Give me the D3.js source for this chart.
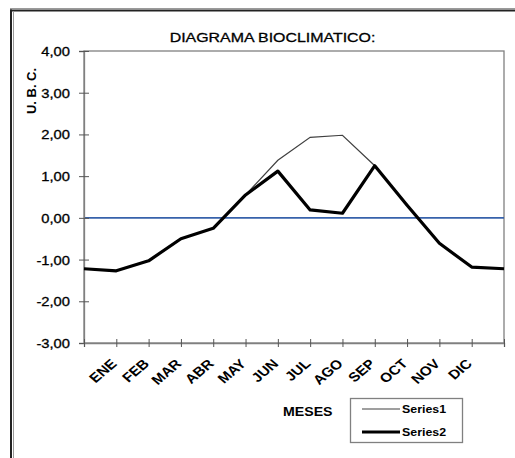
<!DOCTYPE html>
<html>
<head>
<meta charset="utf-8">
<script src="https://cdn.jsdelivr.net/npm/d3@7"></script>
<style>
  html, body { margin: 0; padding: 0; background: #fff; }
  svg text { font-family: "Liberation Sans", Arial, sans-serif; fill: #000; }
  svg text.heavy { stroke: #000; stroke-width: 0.3px; }
</style>
</head>
<body>
<div id="chart"></div>
<script>
// 数据
const months = ['', 'ENE', 'FEB', 'MAR', 'ABR', 'MAY', 'JUN', 'JUL', 'AGO', 'SEP', 'OCT', 'NOV', 'DIC', ''];
const series1 = [-1.22, -1.27, -1.03, -0.50, -0.25, 0.55, 1.38, 1.93, 1.98, 1.25, 0.30, -0.61, -1.18, -1.22];
const series2 = [-1.22, -1.27, -1.03, -0.50, -0.25, 0.55, 1.12, 0.19, 0.11, 1.25, 0.30, -0.61, -1.18, -1.22];
const yTicks = [-3, -2, -1, 0, 1, 2, 3, 4];
const seriesNames = ['Series1', 'Series2'];

const W = 515, H = 458;
const plot = { left: 84, top: 51, right: 504, bottom: 343 };
const sx = 1.18; // 原图文字横向略宽

const svg = d3.select('#chart').append('svg')
    .attr('width', W)
    .attr('height', H);

// 外框
svg.append('line').attr('x1', 10).attr('x2', W + 5).attr('y1', 8.5).attr('y2', 8.5)
    .attr('stroke', '#9a9a9a').attr('stroke-width', 1);
svg.append('line').attr('x1', 10).attr('x2', W + 5).attr('y1', 10.5).attr('y2', 10.5)
    .attr('stroke', '#222').attr('stroke-width', 2);
svg.append('line').attr('x1', 11).attr('x2', 11).attr('y1', 9.5).attr('y2', H + 5)
    .attr('stroke', '#222').attr('stroke-width', 2);
svg.append('line').attr('x1', 13.5).attr('x2', 13.5).attr('y1', 11.5).attr('y2', H + 5)
    .attr('stroke', '#9a9a9a').attr('stroke-width', 1);

const x = d3.scalePoint()
    .domain(d3.range(months.length))
    .range([plot.left, plot.right]);
const y = d3.scaleLinear()
    .domain([-3, 4])
    .range([plot.bottom, plot.top]);

const locale = d3.formatLocale({ decimal: ',', thousands: '.', grouping: [3], currency: ['', ''], minus: '-' });
const fmt = locale.format('.2f');

// 绘图区边框
svg.append('rect')
    .attr('x', plot.left).attr('y', plot.top)
    .attr('width', plot.right - plot.left).attr('height', plot.bottom - plot.top)
    .attr('fill', 'none').attr('stroke', '#808080').attr('stroke-width', 1.3);

// 零线
svg.append('line')
    .attr('x1', plot.left).attr('x2', plot.right)
    .attr('y1', y(0)).attr('y2', y(0))
    .attr('stroke', '#3762ab').attr('stroke-width', 1.6);

// Y 轴
const yAxis = svg.append('g')
    .attr('transform', `translate(${plot.left},0)`)
    .call(d3.axisLeft(y).tickValues(yTicks).tickFormat(fmt).tickSize(5).tickPadding(9));
yAxis.select('.domain').attr('stroke', '#808080').attr('stroke-width', 1.3);
yAxis.selectAll('.tick line').attr('x1', 5).attr('stroke', '#555');
yAxis.selectAll('.tick text')
    .attr('class', 'heavy')
    .attr('font-size', 12.5)
    .attr('dy', null)
    .attr('y', 4.5)
    .attr('transform', `scale(${sx},1)`)
    .attr('x', -14 / sx);

// X 轴
const xAxis = svg.append('g')
    .attr('transform', `translate(0,${plot.bottom})`)
    .call(d3.axisBottom(x).tickSize(4).tickFormat(''));
xAxis.select('.domain').attr('stroke', '#808080').attr('stroke-width', 1.3);
xAxis.selectAll('.tick line').attr('y1', -4).attr('stroke', '#555');

// 月份标签 (旋转 45°)
svg.append('g').selectAll('text')
    .data(months.map((m, i) => ({ m, i })).filter(d => d.m))
    .enter().append('text')
    .attr('transform', d => `translate(${x(d.i) + 1.5},${plot.bottom + 21.5}) scale(${sx},1) rotate(-45)`)
    .attr('text-anchor', 'end')
    .attr('font-size', 13)
    .attr('font-weight', 'bold')
    .text(d => d.m);

// 折线
const line = d3.line()
    .x((d, i) => x(i))
    .y(d => y(d));

svg.append('path')
    .datum(series1)
    .attr('d', line)
    .attr('fill', 'none')
    .attr('stroke', '#404040')
    .attr('stroke-width', 1.2);

svg.append('path')
    .datum(series2)
    .attr('d', line)
    .attr('fill', 'none')
    .attr('stroke', '#000')
    .attr('stroke-width', 3.2)
    .attr('stroke-linejoin', 'round');

// 标题
svg.append('text')
    .attr('class', 'heavy')
    .attr('transform', `translate(272.5,42) scale(${sx},1)`)
    .attr('text-anchor', 'middle')
    .attr('font-size', 13.5)
    .text('DIAGRAMA BIOCLIMATICO:');

svg.append('text')
    .attr('transform', 'translate(35.5,91) rotate(-90)')
    .attr('text-anchor', 'middle')
    .attr('font-size', 13)
    .attr('font-weight', 'bold')
    .text('U. B. C.');

svg.append('text')
    .attr('transform', `translate(283,416) scale(${sx},1)`)
    .attr('font-size', 12)
    .attr('font-weight', 'bold')
    .text('MESES');

// 图例
const legend = svg.append('g');
legend.append('rect')
    .attr('x', 350.5).attr('y', 398.5).attr('width', 112).attr('height', 44)
    .attr('fill', '#fff').attr('stroke', '#808080').attr('stroke-width', 1.3);
const legendRows = [
    { name: seriesNames[0], color: '#404040', w: 1.2, yy: 409 },
    { name: seriesNames[1], color: '#000', w: 3.2, yy: 432 }
];
legendRows.forEach(r => {
    legend.append('line')
        .attr('x1', 362).attr('x2', 400).attr('y1', r.yy).attr('y2', r.yy)
        .attr('stroke', r.color).attr('stroke-width', r.w);
    legend.append('text')
        .attr('transform', `translate(402,${r.yy + 3.5}) scale(${sx},1)`)
        .attr('font-size', 10.5)
        .attr('font-weight', 'bold')
        .text(r.name);
});
</script>
</body>
</html>
